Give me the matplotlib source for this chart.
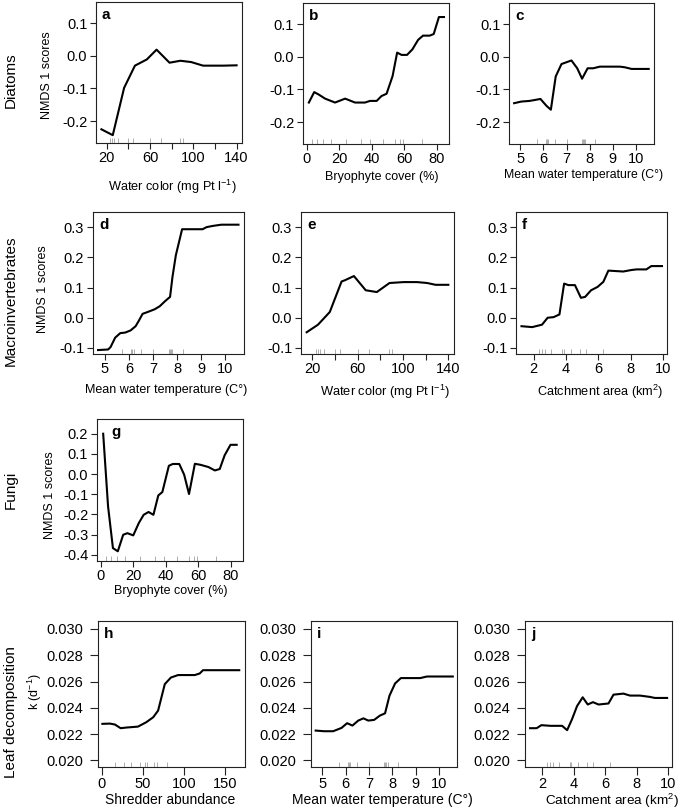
import matplotlib
matplotlib.use('Agg')
import matplotlib.pyplot as plt
import matplotlib.transforms as mtransforms
from matplotlib.ticker import FormatStrFormatter

plt.rcParams['font.family'] = ['Liberation Sans', 'DejaVu Sans']
plt.rcParams['mathtext.fontset'] = 'custom'
plt.rcParams['mathtext.rm'] = 'Liberation Sans'
plt.rcParams['mathtext.it'] = 'Liberation Sans:italic'
plt.rcParams['axes.unicode_minus'] = False

W, H = 685, 810

# ---- data ----
# a: diatoms vs water color
a_x = [15, 25.5, 36, 46, 57, 66, 78, 88, 98, 109, 128, 140]
a_y = [-0.225, -0.243, -0.098, -0.030, -0.011, 0.019, -0.021, -0.015, -0.019, -0.030, -0.030, -0.029]

# b: diatoms vs bryophyte cover
b_x = [1.2, 4.5, 7.1, 11.2, 17.3, 23.5, 29.6, 35.7, 38.8, 42.9, 45.9, 49, 52.7, 55.5,
       58.2, 61.6, 64.9, 68.4, 71.4, 75.5, 78, 81.2, 84.3]
b_y = [-0.140, -0.108, -0.115, -0.128, -0.140, -0.128, -0.140, -0.140, -0.135, -0.135,
       -0.120, -0.113, -0.059, 0.013, 0.006, 0.006, 0.023, 0.052, 0.065, 0.065, 0.070,
       0.122, 0.122]

# c: diatoms vs mean water temperature
c_x = [4.73, 5.04, 5.40, 5.87, 6.13, 6.32, 6.53, 6.78, 7.21, 7.46, 7.67, 7.91, 8.15,
       8.44, 9.31, 9.52, 9.81, 10.55]
c_y = [-0.142, -0.137, -0.135, -0.129, -0.150, -0.162, -0.060, -0.022, -0.011, -0.035,
       -0.067, -0.035, -0.035, -0.030, -0.030, -0.032, -0.037, -0.037]

# d: macroinvertebrates vs mean water temperature
d_x = [4.72, 5.14, 5.24, 5.43, 5.64, 5.85, 6.07, 6.28, 6.42, 6.57, 6.78, 7.07, 7.28,
       7.49, 7.71, 7.81, 7.95, 8.21, 9.06, 9.23, 9.49, 9.84, 10.55]
d_y = [-0.107, -0.105, -0.097, -0.066, -0.051, -0.049, -0.042, -0.028, -0.009, 0.013,
       0.019, 0.028, 0.038, 0.054, 0.069, 0.135, 0.207, 0.293, 0.293, 0.300, 0.304,
       0.308, 0.308]

# e: macroinvertebrates vs water color
e_x = [15, 25, 35.4, 45.8, 48.7, 56.7, 67.1, 76.9, 88.1, 100.6, 112.4, 121.3, 128.7, 140]
e_y = [-0.048, -0.023, 0.019, 0.120, 0.124, 0.138, 0.091, 0.085, 0.115, 0.118, 0.118,
       0.115, 0.109, 0.109]

# f: macroinvertebrates vs catchment area
f_x = [1.24, 1.90, 2.51, 2.86, 3.23, 3.59, 3.88, 4.15, 4.55, 4.92, 5.18, 5.55, 5.95,
       6.31, 6.62, 7.54, 8.05, 8.36, 8.97, 9.28, 9.94]
f_y = [-0.028, -0.031, -0.023, 0.000, 0.002, 0.011, 0.113, 0.108, 0.108, 0.066, 0.069,
       0.091, 0.102, 0.119, 0.156, 0.153, 0.158, 0.160, 0.160, 0.171, 0.171]

# g: fungi vs bryophyte cover
g_x = [1.4, 4.4, 7.4, 10.4, 13.7, 16.3, 19.9, 23.3, 26.3, 29.3, 32.3, 35.3, 37.8, 41.8,
       44.2, 48.2, 51.2, 54.2, 57.8, 61.2, 66.1, 70.1, 73.1, 76.1, 79.7, 83.5]
g_y = [0.200, -0.160, -0.367, -0.383, -0.301, -0.293, -0.304, -0.243, -0.202, -0.188,
       -0.202, -0.106, -0.089, 0.041, 0.050, 0.050, -0.003, -0.099, 0.051, 0.046,
       0.035, 0.018, 0.025, 0.093, 0.145, 0.145]

# h: leaf decomposition vs shredder abundance
h_x = [0.8, 10, 16, 23, 30, 44, 54, 62.5, 68.5, 76.6, 84, 92.7, 113, 119, 123, 167]
h_y = [0.02278, 0.0228, 0.02273, 0.02245, 0.0225, 0.02257, 0.0229, 0.02328, 0.02379,
       0.0258, 0.0263, 0.02649, 0.02649, 0.02661, 0.02686, 0.02686]

# i: leaf decomposition vs mean water temperature
i_x = [4.71, 5.07, 5.46, 5.82, 6.06, 6.29, 6.54, 6.76, 6.97, 7.22, 7.47, 7.69, 7.88,
       8.12, 8.37, 9.2, 9.49, 10.6]
i_y = [0.02227, 0.02222, 0.02222, 0.02247, 0.02283, 0.02265, 0.02303, 0.0232, 0.02303,
       0.02308, 0.02341, 0.02358, 0.02492, 0.02585, 0.02626, 0.02626, 0.02638, 0.02638]

# j: leaf decomposition vs catchment area
j_x = [1.22, 1.64, 1.94, 2.53, 3.26, 3.58, 3.89, 4.21, 4.57, 4.89, 5.22, 5.58, 6.21,
       6.53, 7.16, 7.58, 8.21, 8.84, 9.16, 9.94]
j_y = [0.02245, 0.02245, 0.02268, 0.02263, 0.02263, 0.0223, 0.02313, 0.02413, 0.0248,
       0.02425, 0.02443, 0.02425, 0.02433, 0.025, 0.02508, 0.02493, 0.02493, 0.02483,
       0.02475, 0.02475]

# rug positions (observed predictor values)
water_rug = [23, 25, 27, 30, 40, 44, 60, 70, 88, 90]
bryo_rug = [3, 6, 10, 15, 24, 33, 39, 47, 54, 57, 59, 71]
temp_rug = [5.7, 6.1, 6.15, 6.2, 6.5, 7.0, 7.65, 7.7, 7.75, 7.8, 8.25]
catch_rug = [2.3, 2.5, 2.7, 3.05, 3.75, 3.85, 4.3, 4.85, 5.25, 6.3]
shred_rug = [16, 27, 36, 46, 52, 55, 64, 67, 79]

row_names = ['Diatoms', 'Macroinvertebrates', 'Fungi', 'Leaf decomposition']

water_ticks = [20, 40, 60, 80, 100, 120, 140]
water_labels = ['20', '', '60', '', '100', '', '140']
bryo_ticks = [0, 20, 40, 60, 80]
temp_ticks = [5, 6, 7, 8, 9, 10]
catch_ticks = [2, 4, 6, 8, 10]
shred_ticks = [0, 50, 100, 150]

nmds1_ticks = [-0.2, -0.1, 0.0, 0.1]
nmds2_ticks = [-0.1, 0.0, 0.1, 0.2, 0.3]
nmds3_ticks = [-0.4, -0.3, -0.2, -0.1, 0.0, 0.1, 0.2]
k_ticks = [0.020, 0.022, 0.024, 0.026, 0.028, 0.030]

lbl_water = r'Water color (mg Pt l$^{-1}$)'
lbl_bryo = 'Bryophyte cover (%)'
lbl_temp = 'Mean water temperature (C°)'
lbl_catch = r'Catchment area (km$^2$)'
lbl_shred = 'Shredder abundance'

water_lim = (10, 145)
bryo_lim = (-2.4, 87.4)
temp_lim = (4.51, 10.78)
catch_lim = (0.9, 10.25)
shred_lim = (-4.5, 174)

ylim1 = (-0.267, 0.165)
ylim2 = (-0.12, 0.35)
ylim3 = (-0.431, 0.273)
ylim4 = (0.0195, 0.0306)

fig = plt.figure(figsize=(W / 100, H / 100), dpi=100)


def fx(x):
    return x / W


def fy(y):
    return 1 - y / H


def panel(box, x, y, rug, xlim, ylim, xticks, xtl, yticks, yfmt, letter,
          xlabel, lab_xy, lab_size, tick_len=4.3, ypad=2, letter_dx=6):
    l, t, r, b = box
    ax = fig.add_axes([fx(l), fy(b), (r - l) / W, (b - t) / H])
    ax.plot(x, y, color='black', lw=1.5, solid_joinstyle='round')
    trans = mtransforms.blended_transform_factory(ax.transData, ax.transAxes)
    ax.vlines(rug, 0, 0.035, transform=trans, color='#a0a0a0', lw=0.6)
    ax.set_xlim(xlim)
    ax.set_ylim(ylim)
    ax.set_xticks(xticks)
    ax.set_xticklabels(xtl if xtl else [str(v) for v in xticks])
    ax.set_yticks(yticks)
    ax.yaxis.set_major_formatter(FormatStrFormatter(yfmt))
    ax.tick_params(direction='out', length=tick_len, width=0.8, labelsize=10.5,
                   color='#222222')
    ax.tick_params(axis='x', pad=1.5)
    ax.tick_params(axis='y', pad=ypad)
    for s in ax.spines.values():
        s.set_linewidth(0.8)
        s.set_color('#222222')
    fig.text(fx(l + letter_dx), fy(t + 13), letter, fontsize=11, fontweight='bold',
             ha='left', va='center')
    fig.text(fx(lab_xy[0]), fy(lab_xy[1]), xlabel, fontsize=lab_size,
             ha='center', va='center')
    return ax


panel((96, 2, 242, 143), a_x, a_y, water_rug, water_lim, ylim1, water_ticks, water_labels,
      nmds1_ticks, '%.1f', 'a', lbl_water, (172, 187), 9.2)
panel((303, 3, 449, 144), b_x, b_y, bryo_rug, bryo_lim, ylim1, bryo_ticks, None,
      nmds1_ticks, '%.1f', 'b', lbl_bryo, (382, 177), 9)
panel((509, 3, 654, 144), c_x, c_y, temp_rug, temp_lim, ylim1, temp_ticks, None,
      nmds1_ticks, '%.1f', 'c', lbl_temp, (584, 175), 8.8)
panel((93, 212, 244, 354), d_x, d_y, temp_rug, temp_lim, ylim2, temp_ticks, None,
      nmds2_ticks, '%.1f', 'd', lbl_temp, (166, 390), 9)
panel((301, 212, 454, 354), e_x, e_y, water_rug, water_lim, ylim2, water_ticks, water_labels,
      nmds2_ticks, '%.1f', 'e', lbl_water, (385, 392), 9.3)
panel((516, 212, 667, 354), f_x, f_y, catch_rug, catch_lim, ylim2, catch_ticks, None,
      nmds2_ticks, '%.1f', 'f', lbl_catch, (600, 392), 9.2)
panel((97, 419, 243, 561), g_x, g_y, bryo_rug, bryo_lim, ylim3, bryo_ticks, None,
      nmds3_ticks, '%.1f', 'g', lbl_bryo, (171, 591), 9, letter_dx=14)
panel((98, 621, 245, 767), h_x, h_y, shred_rug, shred_lim, ylim4, shred_ticks, None,
      k_ticks, '%.3f', 'h', lbl_shred, (170, 800), 10, tick_len=5.8, ypad=5)
panel((311, 621, 457, 767), i_x, i_y, temp_rug, temp_lim, ylim4, temp_ticks, None,
      k_ticks, '%.3f', 'i', lbl_temp, (382, 800), 10, tick_len=5.8, ypad=5)
panel((525, 621, 672, 767), j_x, j_y, catch_rug, catch_lim, ylim4, catch_ticks, None,
      k_ticks, '%.3f', 'j', lbl_catch, (612, 801), 9.7, tick_len=5.8, ypad=5)

# row titles
for name, yc in zip(row_names, [80, 301, 490, 712]):
    fig.text(fx(11), fy(yc), name, fontsize=11, rotation=90, ha='center', va='center')

# y axis labels
for txt, xc, yc in [('NMDS 1 scores', 47, 75), ('NMDS 1 scores', 43, 289),
                    ('NMDS 1 scores', 50, 495), (r'k (d$^{-1}$)', 35, 692)]:
    fig.text(fx(xc), fy(yc), txt, fontsize=9, rotation=90, ha='center', va='center')

fig.savefig('out.png', dpi=100)
